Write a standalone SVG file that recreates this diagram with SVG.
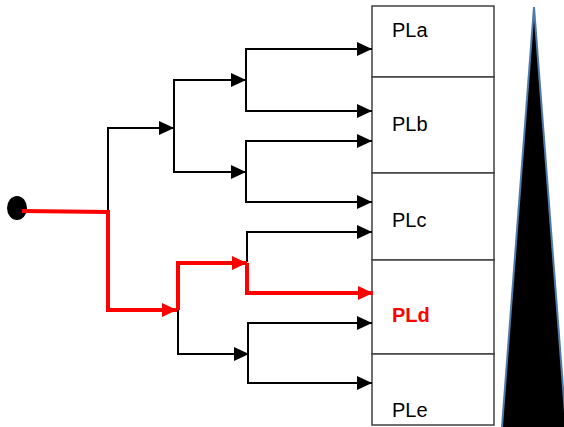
<svg xmlns="http://www.w3.org/2000/svg" width="564" height="427" viewBox="0 0 564 427">
<defs>
<style>
.blk{fill:none;stroke:#000;stroke-width:2}
.red{fill:none;stroke:#ff0000;stroke-width:4}
.box{fill:#fff;stroke:#404040;stroke-width:1.5}
.lbl{font-family:"Liberation Sans",Arial,sans-serif;font-size:20px;fill:#000}
.lblr{font-family:"Liberation Sans",Arial,sans-serif;font-size:20px;font-weight:bold;fill:#ff0000}
</style>
<marker id="ab" viewBox="0 0 15 14" refX="15" refY="7" markerWidth="15" markerHeight="14" markerUnits="userSpaceOnUse" orient="auto">
<path d="M0,0 L15,7 L0,14 Z" fill="#000"/>
</marker>
<marker id="ar" viewBox="0 0 15 14" refX="15" refY="7" markerWidth="15" markerHeight="14" markerUnits="userSpaceOnUse" orient="auto">
<path d="M0,0 L15,7 L0,14 Z" fill="#ff0000"/>
</marker>
</defs>
<rect width="564" height="427" fill="#fff"/>
<g id="stack">
<g id="PLa"><rect class="box" x="372" y="6" width="122" height="71"/><text class="lbl" x="392" y="37">PLa</text></g>
<g id="PLb"><rect class="box" x="372" y="77" width="122" height="96"/><text class="lbl" x="392" y="131">PLb</text></g>
<g id="PLc"><rect class="box" x="372" y="173" width="122" height="87"/><text class="lbl" x="392" y="227">PLc</text></g>
<g id="PLd"><rect class="box" x="372" y="260" width="122" height="94"/><text class="lblr" x="392" y="322">PLd</text></g>
<g id="PLe"><rect class="box" x="372" y="354" width="122" height="71"/><text class="lbl" x="392" y="417">PLe</text></g>
</g>
<g id="triangle"><polygon points="534,7 501,440 567,440" fill="#000" stroke="#4f7bab" stroke-width="2"/></g>
<g id="root"><ellipse cx="17" cy="208" rx="10" ry="12" fill="#000"/></g>
<g id="connectors">
<path class="blk" d="M108,212 V128 H174" marker-end="url(#ab)"/>
<path class="blk" d="M174,128 V80 H246" marker-end="url(#ab)"/>
<path class="blk" d="M174,128 V172 H246" marker-end="url(#ab)"/>
<path class="blk" d="M246,80 V49 H372" marker-end="url(#ab)"/>
<path class="blk" d="M246,80 V111 H372" marker-end="url(#ab)"/>
<path class="blk" d="M246,172 V141 H372" marker-end="url(#ab)"/>
<path class="blk" d="M246,172 V202 H372" marker-end="url(#ab)"/>
<path class="blk" d="M247,262 V232 H372" marker-end="url(#ab)"/>
<path class="blk" d="M178,309 V354 H249" marker-end="url(#ab)"/>
<path class="blk" d="M248,354 V323 H372" marker-end="url(#ab)"/>
<path class="blk" d="M248,354 V383 H372" marker-end="url(#ab)"/>
<path class="red" d="M22,211 L108,212 V310 H177" marker-end="url(#ar)"/>
<path class="red" d="M178,310 V263 H247" marker-end="url(#ar)"/>
<path class="red" d="M247,263 V293 H373" marker-end="url(#ar)"/>
</g>
</svg>
